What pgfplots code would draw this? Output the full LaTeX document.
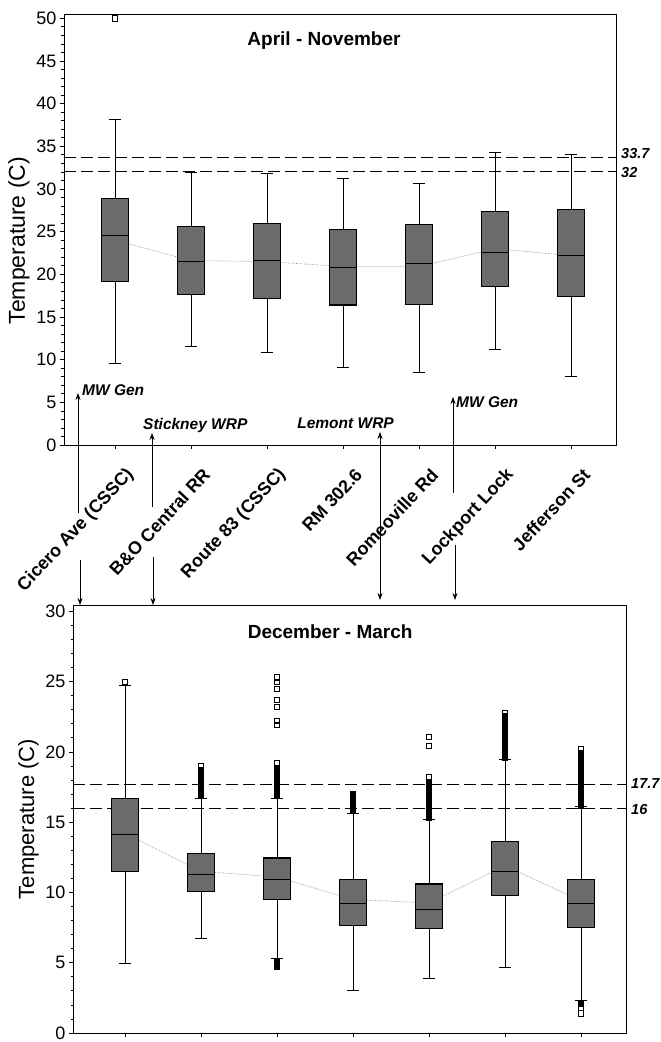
\documentclass[border=0pt]{standalone}
\usepackage{pgfplots}
\pgfplotsset{compat=1.18}
\usepgfplotslibrary{statistics}
\usetikzlibrary{arrows.meta}
\usepackage{fontspec}
\setmainfont{Liberation Sans}

\pgfplotsset{
  panel/.style={
    scale only axis, anchor=south west, clip=false,
    tick pos=left, tick align=outside,
    major tick length=4pt, minor tick length=2.5pt,
    every tick/.style={black, line width=0.7pt},
    minor y tick num=4,
    axis line style={line width=0.9pt},
    xtick={0,...,6},
    /pgf/number format/assume math mode=true,
    yticklabel style={font=\fontsize{18}{18}\selectfont},
    ylabel={Temperature (C)},
  },
  bx/.style={solid, black, mark=square, mark size=2.6pt,
    mark options={solid, fill=white, draw=black, line width=0.6pt},
    boxplot/draw direction=y,
    boxplot/box extend=0.36,
    boxplot/whisker extend=0.17,
    boxplot/every box/.style={draw=black, fill=black!58, line width=1.1pt},
    boxplot/every median/.style={draw=black, line width=1.1pt},
    boxplot/every whisker/.style={draw=black, line width=0.7pt},
  },
  dense/.style={only marks, mark=square*, mark size=2.6pt, black},
  thr/.style={black, line width=0.8pt, dash pattern=on 12pt off 5pt},
}

\begin{document}
\begin{tikzpicture}
\path[use as bounding box] (0pt,0pt) rectangle (661pt,1042pt);

% ---------------- Top panel: April - November
\begin{axis}[panel, at={(64pt,597pt)}, width=552pt, height=431pt,
  xmin=-0.671, xmax=6.592, ymin=0, ymax=50.5, ytick={0,5,...,50},
  ylabel style={font=\fontsize{23}{23}\selectfont, at={(ticklabel cs:0.474)}},
  xticklabels={Cicero Ave (CSSC), B\&O Central RR, Route 83 (CSSC), RM 302.6, Romeoville Rd, Lockport Lock, Jefferson St},
  xticklabel style={font=\bfseries\fontsize{18}{18}\selectfont, xshift=18pt, yshift=-20pt, rotate=47, anchor=east},
]
\addplot[densely dotted, gray, line width=0.6pt] coordinates {(0,24.0) (1,21.6) (2,21.5) (3,20.9) (4,20.9) (5,23.0) (6,22.2)};
\addplot[thr] coordinates {(-0.671,33.7) (6.592,33.7)};
\addplot[thr] coordinates {(-0.671,32) (6.592,32)};
\addplot[bx, boxplot prepared={draw position=0, lower whisker=9.6, lower quartile=19.2, median=24.5, upper quartile=28.9, upper whisker=38.1}] coordinates {(0,50)};
\addplot[bx, boxplot prepared={draw position=1, lower whisker=11.6, lower quartile=17.6, median=21.5, upper quartile=25.6, upper whisker=32.0}] coordinates {};
\addplot[bx, boxplot prepared={draw position=2, lower whisker=10.9, lower quartile=17.2, median=21.6, upper quartile=26.0, upper whisker=31.8}] coordinates {};
\addplot[bx, boxplot prepared={draw position=3, lower whisker=9.05, lower quartile=16.4, median=20.8, upper quartile=25.2, upper whisker=31.3}] coordinates {};
\addplot[bx, boxplot prepared={draw position=4, lower whisker=8.5, lower quartile=16.5, median=21.3, upper quartile=25.8, upper whisker=30.7}] coordinates {};
\addplot[bx, boxplot prepared={draw position=5, lower whisker=11.2, lower quartile=18.6, median=22.6, upper quartile=27.4, upper whisker=34.3}] coordinates {};
\addplot[bx, boxplot prepared={draw position=6, lower whisker=8.0, lower quartile=17.4, median=22.2, upper quartile=27.6, upper whisker=34.0}] coordinates {};
\node[font=\bfseries\fontsize{19}{19}\selectfont] at (axis cs:2.75,47.4) {April - November};
\node[anchor=west, inner sep=0pt, font=\bfseries\itshape\fontsize{14.5}{14.5}\selectfont] at (axis cs:6.592,33.7) [xshift=5pt, yshift=4pt] {33.7};
\node[anchor=west, inner sep=0pt, font=\bfseries\itshape\fontsize{14.5}{14.5}\selectfont] at (axis cs:6.592,32) [xshift=5pt, yshift=-1pt] {32};
\end{axis}

% ---------------- Bottom panel: December - March
\begin{axis}[panel, at={(73pt,9pt)}, width=553pt, height=428pt,
  xmin=-0.684, xmax=6.592, ymin=0, ymax=30.45, ytick={0,5,...,30},
  ylabel style={font=\fontsize{22}{22}\selectfont},
  xticklabels={},
]
\addplot[densely dotted, gray, line width=0.6pt] coordinates {(0,14.2) (1,11.5) (2,11.1) (3,9.5) (4,9.25) (5,11.9) (6,9.4)};
\addplot[thr] coordinates {(-0.684,17.7) (6.592,17.7)};
\addplot[thr] coordinates {(-0.684,16) (6.592,16)};
\addplot[bx, boxplot prepared={draw position=0, lower whisker=4.97, lower quartile=11.5, median=14.1, upper quartile=16.7, upper whisker=24.7}] coordinates {(0,25.0)};
\addplot[bx, boxplot prepared={draw position=1, lower whisker=6.7, lower quartile=10.07, median=11.26, upper quartile=12.76, upper whisker=16.7}] coordinates {(1,19.0)};
\addplot[bx, boxplot prepared={draw position=2, lower whisker=5.3, lower quartile=9.5, median=10.9, upper quartile=12.45, upper whisker=16.7}] coordinates {(2,19.2) (2,21.9) (2,22.2) (2,23.2) (2,23.7) (2,24.5) (2,25.0) (2,25.3)};
\addplot[bx, boxplot prepared={draw position=3, lower whisker=3.0, lower quartile=7.63, median=9.24, upper quartile=10.9, upper whisker=15.6}] coordinates {};
\addplot[bx, boxplot prepared={draw position=4, lower whisker=3.9, lower quartile=7.46, median=8.8, upper quartile=10.6, upper whisker=15.2}] coordinates {(4,18.2) (4,20.45) (4,21.1)};
\addplot[bx, boxplot prepared={draw position=5, lower whisker=4.7, lower quartile=9.76, median=11.5, upper quartile=13.6, upper whisker=19.5}] coordinates {(5,22.8)};
\addplot[bx, boxplot prepared={draw position=6, lower whisker=2.3, lower quartile=7.53, median=9.24, upper quartile=10.95, upper whisker=16.1}] coordinates {(6,20.2) (6,1.4) (6,1.8)};
% dense outlier clusters
\addplot[dense] coordinates {(1,16.9) (1,17.1) (1,17.3) (1,17.5) (1,17.7) (1,17.9) (1,18.1) (1,18.3) (1,18.5) (1,18.7)};
\addplot[dense] coordinates {(2,16.9) (2,17.1) (2,17.3) (2,17.5) (2,17.7) (2,17.9) (2,18.1) (2,18.3) (2,18.5) (2,18.8) (2,4.7) (2,4.9) (2,5.1)};
\addplot[dense] coordinates {(3,15.8) (3,16.0) (3,16.2) (3,16.4) (3,16.6) (3,16.8) (3,17.0)};
\addplot[dense] coordinates {(4,15.3) (4,15.5) (4,15.7) (4,15.9) (4,16.1) (4,16.3) (4,16.5) (4,16.7) (4,16.9) (4,17.1) (4,17.4) (4,17.8)};
\addplot[dense] coordinates {(5,19.6) (5,19.8) (5,20.0) (5,20.2) (5,20.4) (5,20.6) (5,20.8) (5,21.0) (5,21.2) (5,21.4) (5,21.6) (5,21.8) (5,22.0) (5,22.2) (5,22.4) (5,22.6)};
\addplot[dense] coordinates {(6,16.2) (6,16.4) (6,16.6) (6,16.8) (6,17.0) (6,17.2) (6,17.4) (6,17.6) (6,17.8) (6,18.0) (6,18.2) (6,18.4) (6,18.6) (6,18.8) (6,19.0) (6,19.2) (6,19.4) (6,19.6) (6,19.9) (6,2.1)};
\node[font=\bfseries\fontsize{19}{19}\selectfont] at (axis cs:2.70,28.55) {December - March};
\node[anchor=west, inner sep=0pt, font=\bfseries\itshape\fontsize{14.5}{14.5}\selectfont] at (axis cs:6.592,17.7) [xshift=5pt, yshift=1pt] {17.7};
\node[anchor=west, inner sep=0pt, font=\bfseries\itshape\fontsize{14.5}{14.5}\selectfont] at (axis cs:6.592,16) [xshift=5pt, yshift=-1pt] {16};
\end{axis}

% ---------------- annotations between panels
\tikzset{arr/.style={line width=0.8pt, -{Stealth[length=7pt,width=5pt]}},
         ann/.style={font=\bfseries\itshape\fontsize{15.5}{15.5}\selectfont, inner sep=0pt}}
\draw[arr] (78pt,529pt) -- (78pt,649pt);
\node[ann, anchor=west] at (82pt,652pt) {MW Gen};
\draw[arr] (80pt,482pt) -- (80pt,437pt);
\draw[arr] (152pt,535pt) -- (152pt,609pt);
\node[ann, anchor=west] at (143pt,617pt) {Stickney WRP};
\draw[arr] (153pt,485pt) -- (153pt,437pt);
\draw[line width=0.8pt, {Stealth[length=7pt,width=5pt]}-{Stealth[length=7pt,width=5pt]}] (380pt,610pt) -- (380pt,442pt);
\node[ann, anchor=east] at (394pt,619pt) {Lemont WRP};
\draw[arr] (453pt,549pt) -- (453pt,645pt);
\node[ann, anchor=west] at (456pt,640pt) {MW Gen};
\draw[arr] (455pt,497pt) -- (455pt,442pt);
\end{tikzpicture}
\end{document}
